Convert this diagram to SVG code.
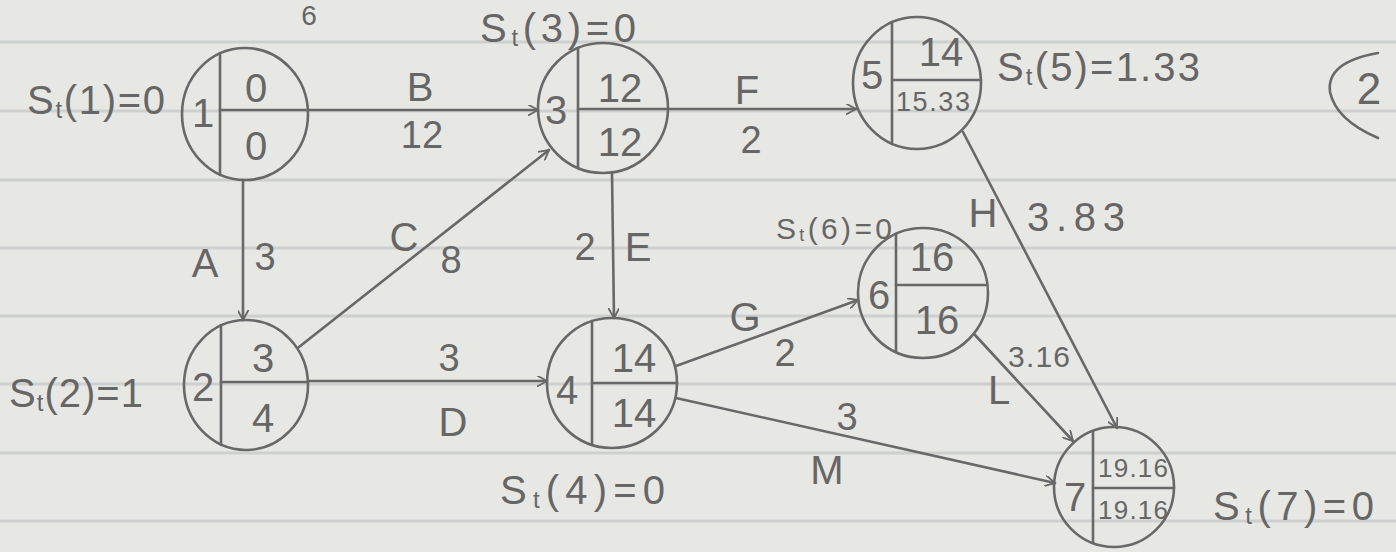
<svg xmlns="http://www.w3.org/2000/svg" width="1396" height="552" viewBox="0 0 1396 552">
<style>
.ink{fill:none;stroke:#686868;stroke-width:2.6;stroke-linecap:round}
.rule{stroke:#cdd0cf;stroke-width:3}
text{font-family:"Liberation Sans","DejaVu Sans",sans-serif;fill:#666666;text-anchor:middle;dominant-baseline:central}
.big{font-size:40px}
.mid{font-size:38px}
.sm{font-size:26px}
.lab{font-size:40px;text-anchor:start}
.sub{font-size:24px}
</style>
<defs>
<marker id="ah" viewBox="0 0 12 12" refX="11" refY="6" markerWidth="11" markerHeight="11" markerUnits="userSpaceOnUse" orient="auto">
<path d="M0,0 L11,6 L0,12" fill="none" stroke="#686868" stroke-width="2"/>
</marker>
</defs>
<rect width="1396" height="552" fill="#e7e8e4"/>
<g id="paper">
<line class="rule" x1="0" y1="42" x2="1396" y2="42"/>
<line class="rule" x1="0" y1="111" x2="1396" y2="111"/>
<line class="rule" x1="0" y1="180" x2="1396" y2="180"/>
<line class="rule" x1="0" y1="248" x2="1396" y2="248"/>
<line class="rule" x1="0" y1="316" x2="1396" y2="316"/>
<line class="rule" x1="0" y1="384" x2="1396" y2="384"/>
<line class="rule" x1="0" y1="453" x2="1396" y2="453"/>
<line class="rule" x1="0" y1="521" x2="1396" y2="521"/>
</g>
<g id="connectors">
<line class="ink" x1="243" y1="180" x2="243" y2="320" marker-end="url(#ah)"/>
<line class="ink" x1="308" y1="110" x2="538" y2="110" marker-end="url(#ah)"/>
<line class="ink" x1="299" y1="347" x2="549" y2="150" marker-end="url(#ah)"/>
<line class="ink" x1="308" y1="381" x2="547" y2="381" marker-end="url(#ah)"/>
<line class="ink" x1="612" y1="173" x2="614" y2="318" marker-end="url(#ah)"/>
<line class="ink" x1="668" y1="109" x2="856" y2="109" marker-end="url(#ah)"/>
<line class="ink" x1="676" y1="366" x2="858" y2="300" marker-end="url(#ah)"/>
<line class="ink" x1="963" y1="132" x2="1117" y2="428" marker-end="url(#ah)"/>
<line class="ink" x1="975" y1="335" x2="1073" y2="441" marker-end="url(#ah)"/>
<line class="ink" x1="676" y1="398" x2="1055" y2="483" marker-end="url(#ah)"/>
</g>
<g id="edge-labels">
<text class="big" x="420" y="87">B</text><text class="mid" x="422" y="135">12</text>
<text class="big" x="747" y="90">F</text><text class="mid" x="751" y="140">2</text>
<text class="big" x="205" y="263">A</text><text class="mid" x="265" y="257">3</text>
<text class="big" x="404" y="237">C</text><text class="mid" x="451" y="260">8</text>
<text class="mid" x="585" y="247">2</text><text class="big" x="638" y="247">E</text>
<text class="mid" x="449" y="358">3</text><text class="big" x="453" y="422">D</text>
<text class="big" x="745" y="317">G</text><text class="mid" x="785" y="353">2</text>
<text class="big" x="983" y="213">H</text><text class="big" x="1076" y="217" textLength="98">3.83</text>
<text class="big" x="999" y="390">L</text><text class="sm" x="1039" y="356" style="font-size:30px" textLength="62">3.16</text>
<text class="mid" x="847" y="417">3</text><text class="big" x="827" y="470">M</text>
</g>
<g id="node1">
<ellipse class="ink" cx="245" cy="114" rx="63" ry="66"/>
<line class="ink" x1="220" y1="53" x2="220" y2="175"/>
<line class="ink" x1="220" y1="110" x2="308" y2="110"/>
<text class="big" x="203" y="113">1</text><text class="big" x="256" y="88">0</text><text class="big" x="256" y="146">0</text>
</g>
<g id="node2">
<ellipse class="ink" cx="246" cy="385" rx="62" ry="65"/>
<line class="ink" x1="221" y1="325" x2="221" y2="445"/>
<line class="ink" x1="221" y1="382" x2="308" y2="382"/>
<text class="big" x="203" y="387">2</text><text class="big" x="263" y="358">3</text><text class="big" x="263" y="418">4</text>
</g>
<g id="node3">
<ellipse class="ink" cx="603" cy="108" rx="65" ry="65"/>
<line class="ink" x1="578" y1="48" x2="578" y2="168"/>
<line class="ink" x1="578" y1="109" x2="668" y2="109"/>
<text class="big" x="556" y="110">3</text><text class="big" x="620" y="88">12</text><text class="big" x="620" y="142">12</text>
</g>
<g id="node4">
<ellipse class="ink" cx="612" cy="383" rx="65" ry="65"/>
<line class="ink" x1="592" y1="321" x2="592" y2="445"/>
<line class="ink" x1="592" y1="383" x2="677" y2="383"/>
<text class="big" x="567" y="390">4</text><text class="big" x="634" y="358">14</text><text class="big" x="634" y="413">14</text>
</g>
<g id="node5">
<ellipse class="ink" cx="917" cy="83" rx="64" ry="66"/>
<line class="ink" x1="892" y1="22" x2="892" y2="144"/>
<line class="ink" x1="892" y1="80" x2="981" y2="80"/>
<text class="big" x="872" y="75">5</text><text class="big" x="941" y="52">14</text><text class="sm" x="933" y="102" style="font-size:27px" textLength="74">15.33</text>
</g>
<g id="node6">
<ellipse class="ink" cx="923" cy="293" rx="65" ry="65"/>
<line class="ink" x1="896" y1="234" x2="896" y2="352"/>
<line class="ink" x1="896" y1="285" x2="987" y2="285"/>
<text class="big" x="879" y="295">6</text><text class="big" x="932" y="257">16</text><text class="big" x="937" y="320">16</text>
</g>
<g id="node7">
<ellipse class="ink" cx="1114" cy="487" rx="60" ry="60"/>
<line class="ink" x1="1093" y1="431" x2="1093" y2="543"/>
<line class="ink" x1="1093" y1="488" x2="1174" y2="488"/>
<text class="big" x="1075" y="497">7</text><text class="sm" x="1133" y="468" textLength="70">19.16</text><text class="sm" x="1133" y="510" textLength="70">19.16</text>
</g>
<g id="slack-labels">
<text style="font-size:28px" x="309" y="15">6</text>
<text class="lab" x="27" y="100" textLength="138">S<tspan class="sub" dy="9">t</tspan><tspan dy="-9">(1)=0</tspan></text>
<text class="lab" x="480" y="28" textLength="156">S<tspan class="sub" dy="9">t</tspan><tspan dy="-9">(3)=0</tspan></text>
<text class="lab" x="997" y="67" textLength="203">S<tspan class="sub" dy="9">t</tspan><tspan dy="-9">(5)=1.33</tspan></text>
<text class="lab" x="776" y="228" textLength="116" style="font-size:30px">S<tspan class="sub" dy="7" style="font-size:18px">t</tspan><tspan dy="-7">(6)=0</tspan></text>
<text class="lab" x="9" y="393" textLength="134">S<tspan class="sub" dy="9">t</tspan><tspan dy="-9">(2)=1</tspan></text>
<text class="lab" x="500" y="490" textLength="165">S<tspan class="sub" dy="9">t</tspan><tspan dy="-9">(4)=0</tspan></text>
<text class="lab" x="1213" y="506" textLength="161">S<tspan class="sub" dy="9">t</tspan><tspan dy="-9">(7)=0</tspan></text>
</g>
<g id="page-number">
<path class="ink" d="M1378,53 Q1326,62 1330,92 Q1336,120 1378,138"/>
<text style="font-size:44px" x="1369" y="88">2</text>
</g>
</svg>
